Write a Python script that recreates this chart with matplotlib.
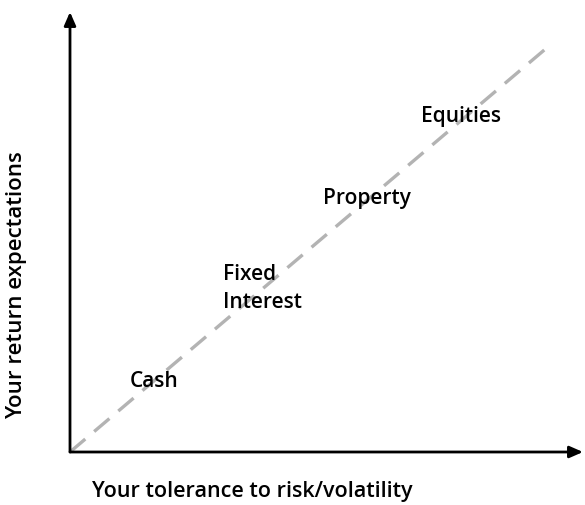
import matplotlib.pyplot as plt

# asset classes and where they sit on risk (x) / return (y), in 0-100 units
assets = ['Cash', 'Fixed\nInterest', 'Property', 'Equities']
risk = [11.7, 29.8, 49.3, 68.4]
ret = [14.8, 32.7, 56.4, 75.0]

# trend line end points
line_x = [0, 93.6]
line_y = [0, 92.5]

fig = plt.figure(figsize=(5.85, 5.05), dpi=100)
ax = fig.add_axes([70 / 585, (505 - 452) / 505, 513 / 585, 440 / 505])
ax.set_xlim(0, 100)
ax.set_ylim(0, 100)
ax.axis('off')

font = 'Open Sans'

# axes with arrow heads
for end in [(100, 0), (0, 100)]:
    ax.annotate('', xy=end, xytext=(0, 0), xycoords='data',
                arrowprops=dict(arrowstyle='-|>,head_length=0.8,head_width=0.35',
                                color='black', lw=2, shrinkA=0, shrinkB=0))

ax.plot(line_x, line_y, color='#b3b3b3', lw=2.4, dashes=(6, 3.5), clip_on=False)

for name, x, y in zip(assets, risk, ret):
    ax.text(x, y, name, ha='left', va='baseline', fontsize=15, family=font,
            fontweight='semibold', linespacing=1.45)

fig.text(252 / 585, 1 - 492 / 505, 'Your tolerance to risk/volatility',
         ha='center', va='center', fontsize=15.5, family=font, fontweight='semibold')
fig.text(17 / 585, 1 - 285 / 505, 'Your return expectations', rotation=90,
         ha='center', va='center', fontsize=16, family=font, fontweight='semibold')

fig.savefig('out.png', dpi=100)
